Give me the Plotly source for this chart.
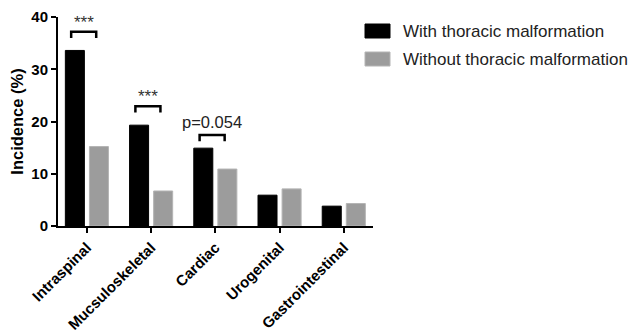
import plotly.graph_objects as go

categories = ["Intraspinal", "Mucsuloskeletal", "Cardiac", "Urogenital", "Gastrointestinal"]
with_tm = [33.6, 19.3, 14.9, 5.9, 3.8]
without_tm = [15.2, 6.7, 10.9, 7.1, 4.3]
series_names = ["With thoracic malformation", "Without thoracic malformation"]
series_colors = ["#000000", "#9c9c9c"]
series_edges = ["#000000", "#b4b4b4"]
sig_labels = ["***", "***", "p=0.054"]
y_ticks = [0, 10, 20, 30, 40]

FONT = "Arial, 'Liberation Sans', Helvetica, sans-serif"
W, H = 629, 332
ML, MR, MT, MB = 58, 256, 17, 106
PW, PH = W - ML - MR, H - MT - MB


def px_x(px):
    return (px - ML) / PW


def px_y(py):
    return (H - MB - py) / PH


fig = go.Figure()
for vals, name, col, edge in zip([with_tm, without_tm], series_names, series_colors, series_edges):
    fig.add_trace(go.Bar(x=categories, y=vals, name=name, showlegend=False,
                         marker=dict(color=col, line=dict(color=edge, width=1))))

# significance brackets
for i, lab in enumerate(sig_labels):
    top = max(with_tm[i], without_tm[i])
    ytop = top + 3.6 if i < 2 else top + 2.5
    yleg = ytop - 1.2
    x0, x1 = i - 0.245, i + 0.145
    fig.add_shape(type="path",
                  path=f"M {x0} {yleg} L {x0} {ytop} L {x1} {ytop} L {x1} {yleg}",
                  xref="x", yref="y", line=dict(color="#000000", width=2.5))
    if lab == "***":
        fig.add_annotation(x=(x0 + x1) / 2, y=ytop, xref="x", yref="y", text=lab,
                           showarrow=False, yanchor="bottom", yshift=-2,
                           font=dict(family=FONT, size=17, color="#333333"))
    else:
        fig.add_annotation(x=(x0 + x1) / 2, y=ytop, xref="x", yref="y", text=lab,
                           showarrow=False, yanchor="bottom", yshift=2,
                           font=dict(family=FONT, size=16.5, color="#222222"))

# legend drawn manually (swatch + label)
for k, (name, col, edge) in enumerate(zip(series_names, series_colors, series_edges)):
    cy = 31 + 28 * k
    fig.add_shape(type="rect", xref="paper", yref="paper",
                  x0=px_x(365), x1=px_x(390), y0=px_y(cy + 7), y1=px_y(cy - 7),
                  fillcolor=col, line=dict(color=edge, width=1))
    fig.add_annotation(xref="paper", yref="paper", x=px_x(401), y=px_y(cy),
                       xanchor="left", yanchor="middle", showarrow=False, text=name,
                       font=dict(family=FONT, size=17, color="#222222"))

fig.update_layout(
    width=W, height=H,
    margin=dict(l=ML, r=MR, t=MT, b=MB, pad=0),
    paper_bgcolor="white", plot_bgcolor="white",
    barmode="group", bargap=0.25, bargroupgap=0.21,
    font=dict(family=FONT, color="#000000"),
    showlegend=False,
)
fig.update_xaxes(range=[-0.45, 4.455], showline=True, linecolor="#000000", linewidth=2,
                 ticks="outside", ticklen=5, tickwidth=2, tickcolor="#000000",
                 tickangle=-45, automargin=False,
                 tickfont=dict(family=FONT, size=15, color="#000000", weight="bold"),
                 showgrid=False, zeroline=False)
fig.update_yaxes(range=[0, 40], tickvals=y_ticks, showline=True, linecolor="#000000", linewidth=2,
                 ticks="outside", ticklen=5, tickwidth=2, tickcolor="#000000",
                 automargin=False,
                 tickfont=dict(family=FONT, size=15, color="#000000", weight="bold"),
                 title=dict(text="Incidence (%)", standoff=4,
                            font=dict(family=FONT, size=16.5, color="#000000", weight="bold")),
                 showgrid=False, zeroline=False)

fig.write_html("out.html")
